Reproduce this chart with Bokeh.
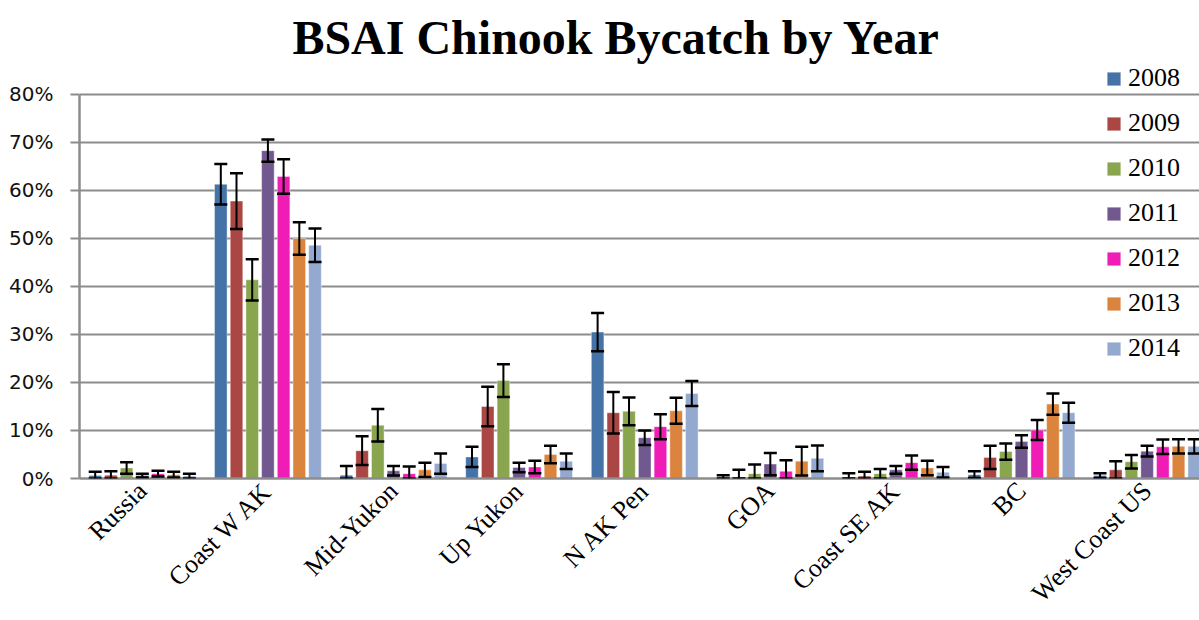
from bokeh.plotting import figure
from bokeh.models import (ColumnDataSource, Range1d, FixedTicker, NumeralTickFormatter,
                          Whisker, TeeHead, Legend, LegendItem, Label)
from bokeh.embed import file_html
from bokeh.resources import INLINE
from math import pi

categories = ["Russia", "Coast W AK", "Mid-Yukon", "Up Yukon", "N AK Pen",
              "GOA", "Coast SE AK", "BC", "West Coast US"]
years = ["2008", "2009", "2010", "2011", "2012", "2013", "2014"]
colors = ["#4572A7", "#AA4643", "#89A54E", "#71588F", "#EF1DB5", "#DB843D", "#93A9CF"]

# percentage values per year (one value per category) and error half-widths
v2008 = [0.6, 61.3, 0.7, 4.5, 30.5, 0.2, 0.3, 0.8, 0.6]
e2008 = [0.8, 4.2, 1.9, 2.1, 4.0, 0.5, 0.8, 0.7, 0.5]
v2009 = [0.7, 57.8, 5.8, 15.0, 13.7, 0.3, 0.5, 4.4, 1.8]
e2009 = [0.8, 5.8, 3.0, 4.1, 4.3, 1.5, 0.9, 2.4, 1.8]
v2010 = [2.2, 41.4, 11.1, 20.4, 14.0, 1.0, 1.0, 5.6, 3.5]
e2010 = [1.2, 4.3, 3.4, 3.4, 2.9, 1.9, 1.0, 1.7, 1.4]
v2011 = [0.6, 68.3, 1.6, 2.3, 8.5, 3.0, 1.8, 7.7, 5.7]
e2011 = [0.4, 2.3, 1.0, 1.0, 1.5, 2.3, 0.8, 1.3, 1.1]
v2012 = [1.0, 62.9, 1.0, 2.4, 10.8, 1.5, 3.3, 10.1, 6.6]
e2012 = [0.6, 3.6, 1.5, 1.3, 2.6, 2.3, 1.5, 2.1, 1.5]
v2013 = [0.8, 50.0, 1.8, 5.0, 14.1, 3.6, 2.2, 15.5, 6.7]
e2013 = [0.6, 3.4, 1.5, 1.8, 2.7, 3.0, 1.5, 2.2, 1.5]
v2014 = [0.5, 48.6, 3.1, 3.6, 17.7, 4.2, 1.3, 13.7, 6.7]
e2014 = [0.5, 3.5, 2.1, 1.6, 2.6, 2.7, 1.1, 2.1, 1.5]

values = [v2008, v2009, v2010, v2011, v2012, v2013, v2014]
errors = [e2008, e2009, e2010, e2011, e2012, e2013, e2014]

y_ticks = [0.0, 0.1, 0.2, 0.3, 0.4, 0.5, 0.6, 0.7, 0.8]
title_text = "BSAI Chinook Bycatch by Year"

n_cat = len(categories)
p = figure(width=1199, height=620, output_backend="svg", toolbar_location=None,
           x_range=Range1d(0, 8.917), y_range=Range1d(0, 0.9958))
p.min_border_left = 79
p.min_border_right = 0
p.min_border_top = 0
p.min_border_bottom = 141
p.outline_line_color = None
p.background_fill_color = "white"
p.border_fill_color = "white"

pitch = 0.125
bw = 0.1
items = []
for j, (yr, col) in enumerate(zip(years, colors)):
    xs = [i + 0.5 + (j - 3) * pitch for i in range(n_cat)]
    tops = [v / 100 for v in values[j]]
    ups = [(v + e) / 100 for v, e in zip(values[j], errors[j])]
    los = [max(v - e, 0) / 100 for v, e in zip(values[j], errors[j])]
    src = ColumnDataSource(dict(x=xs, top=tops, upper=ups, lower=los))
    r = p.vbar(x="x", top="top", width=bw, source=src, fill_color=col,
               line_color="white", line_alpha=0.4, line_width=1)
    items.append(LegendItem(label=yr, renderers=[r]))
    w = Whisker(base="x", upper="upper", lower="lower", source=src, level="annotation",
                line_color="black", line_width=2,
                upper_head=TeeHead(size=13, line_color="black", line_width=2.5),
                lower_head=TeeHead(size=13, line_color="black", line_width=2.5))
    p.add_layout(w)

legend = Legend(items=items, location=(1026, 115), orientation="vertical",
                label_text_font="Liberation Serif", label_text_font_size="26px",
                label_text_color="black", glyph_width=17, glyph_height=17,
                label_height=30, spacing=15, padding=0, margin=0, label_standoff=6,
                background_fill_alpha=0, border_line_color=None)
p.add_layout(legend, "center")

title = Label(x=(n_cat - 0.45) / 2, y=0.919, text=title_text, text_align="center",
              text_baseline="alphabetic", text_font="Liberation Serif",
              text_font_size="48px", text_font_style="bold", text_color="black")
p.add_layout(title)

# y axis
p.yaxis.bounds = (0, 0.8)
p.yaxis.ticker = FixedTicker(ticks=y_ticks)
p.yaxis.formatter = NumeralTickFormatter(format="0%")
p.yaxis.major_label_text_font = "DejaVu Sans"
p.yaxis.major_label_text_font_size = "20px"
p.yaxis.major_label_text_color = "#111111"
p.yaxis.major_tick_out = 9
p.yaxis.major_tick_in = 0
p.yaxis.major_tick_line_color = "#8c8c8c"
p.yaxis.major_tick_line_width = 2
p.yaxis.minor_tick_line_color = None
p.yaxis.axis_line_color = "#8c8c8c"
p.yaxis.axis_line_width = 2.5
p.yaxis.major_label_standoff = 17

# x axis
p.xaxis.ticker = FixedTicker(ticks=[i + 0.5 for i in range(n_cat)])
p.xaxis.major_label_overrides = {i + 0.5: c for i, c in enumerate(categories)}
p.xaxis.major_label_orientation = pi / 4
p.xaxis.major_label_text_font = "Liberation Serif"
p.xaxis.major_label_text_font_size = "26px"
p.xaxis.major_label_text_color = "black"
p.xaxis.major_tick_line_color = None
p.xaxis.major_tick_out = 0
p.xaxis.minor_tick_line_color = None
p.xaxis.axis_line_color = "#8c8c8c"
p.xaxis.axis_line_width = 2.5
p.xaxis.major_label_standoff = 8

p.xgrid.visible = False
p.ygrid.ticker = FixedTicker(ticks=y_ticks)
p.ygrid.grid_line_color = "#8c8c8c"
p.ygrid.grid_line_width = 2

open("out.html", "w").write(file_html(p, INLINE))
